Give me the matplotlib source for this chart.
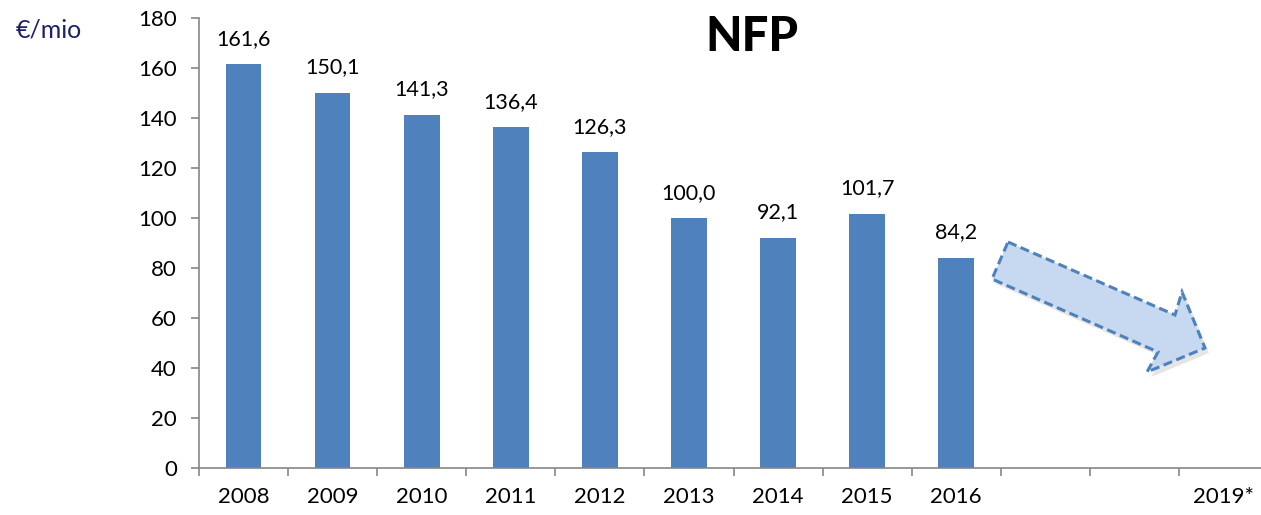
import matplotlib
matplotlib.use("Agg")
import matplotlib.pyplot as plt
from matplotlib.patches import Polygon
import numpy as np

categories = ["2008", "2009", "2010", "2011", "2012", "2013", "2014", "2015", "2016", "2017", "2018", "2019*"]
values = [161.6, 150.1, 141.3, 136.4, 126.3, 100.0, 92.1, 101.7, 84.2]
value_labels = ["161,6", "150,1", "141,3", "136,4", "126,3", "100,0", "92,1", "101,7", "84,2"]
tick_labels = ["2008", "2009", "2010", "2011", "2012", "2013", "2014", "2015", "2016", "", "", "2019*"]
yticks = [0, 20, 40, 60, 80, 100, 120, 140, 160, 180]

FONT = ["Lato", "DejaVu Sans"]
plt.rcParams["font.family"] = FONT

W, H = 1261, 515
fig = plt.figure(figsize=(W / 100, H / 100), dpi=100)
ax = fig.add_axes([199 / W, 1 - 468 / H, 1069 / W, 450 / H])

x = np.arange(len(values))
ax.bar(x, values, width=0.4, color="#4F81BD", zorder=2)
for xi, v, lab in zip(x, values, value_labels):
    ax.annotate(lab, (xi, v), xytext=(0, 11), textcoords="offset points",
                ha="center", va="bottom", fontsize=15.5, color="black")

ax.set_xlim(-0.5, len(categories) - 0.5)
ax.set_ylim(0, 180)
ax.set_yticks(yticks)
ax.set_yticklabels([str(t) for t in yticks], fontsize=16)
ax.set_xticks(np.arange(len(categories)))
ax.set_xticklabels(tick_labels, fontsize=16)
ax.set_xticks(np.arange(len(categories) + 1) - 0.5, minor=True)
ax.tick_params(axis="x", which="major", length=0, pad=14)
ax.tick_params(axis="x", which="minor", length=6, color="#868686", width=1.2, direction="out")
ax.tick_params(axis="y", length=6, color="#868686", width=1.2, pad=10)

for s in ["top", "right"]:
    ax.spines[s].set_visible(False)
for s in ["left", "bottom"]:
    ax.spines[s].set_color("#868686")
    ax.spines[s].set_linewidth(1.2)

fig.text(752 / W, 1 - 37 / H, "NFP", fontsize=34, fontweight="black", ha="center", va="center")
fig.text(16 / W, 1 - 30 / H, "€/mio", fontsize=18, color="#1F1F6B", ha="left", va="center")

# decorative trend arrow
pts = [(1008, 242), (1175, 315), (1182, 292), (1205, 348), (1147, 372), (1158, 352), (992, 279)]
shadow = [((px + 4) / W, 1 - (py + 5) / H) for px, py in pts]
fig.patches.append(Polygon(shadow, closed=True, transform=fig.transFigure,
                           facecolor="#BFBFBF", edgecolor="none", alpha=0.4, zorder=3))
arrow = [(px / W, 1 - py / H) for px, py in pts]
fig.patches.append(Polygon(arrow, closed=True, transform=fig.transFigure,
                           facecolor="#C6D9F1", edgecolor="#4F81BD", linewidth=2.2,
                           linestyle=(0, (3, 1.5)), zorder=4))

fig.savefig("out.png", dpi=100)
